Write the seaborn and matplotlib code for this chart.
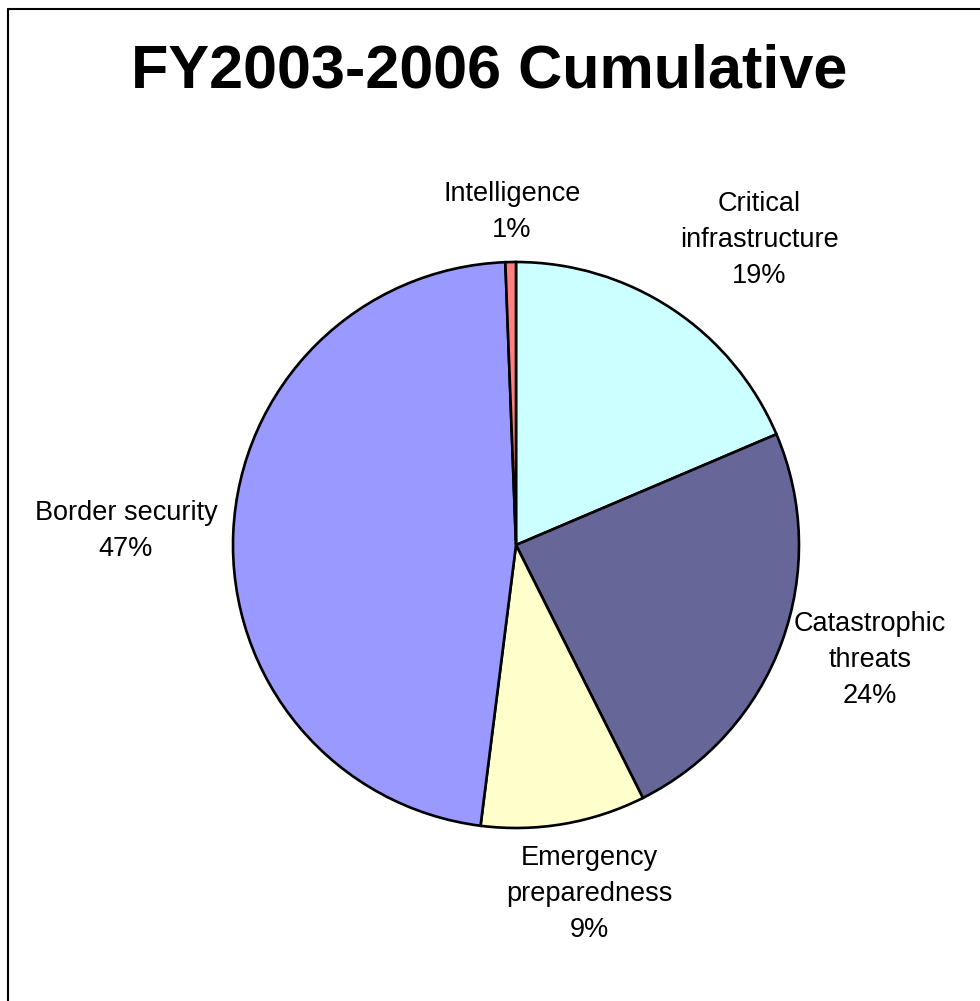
import matplotlib
matplotlib.use("Agg")
import matplotlib.pyplot as plt
import seaborn as sns
from matplotlib.lines import Line2D

# Data (clockwise from 12 o'clock)
categories = ["Critical\ninfrastructure", "Catastrophic\nthreats", "Emergency\npreparedness",
              "Border security", "Intelligence"]
shares = [18.6, 24.0, 9.4, 47.4, 0.6]
colors = ["#CCFFFF", "#666699", "#FFFFCC", "#9999FF", "#FF8080"]

# Label placement (layout, in pie-radius units)
label_pos = [(0.859, 1.078), (1.251, -0.406), (0.258, -1.233), (-1.378, 0.049), (-0.014, 1.178)]

sns.set_theme(style="white")
plt.rcParams["font.family"] = ["Liberation Sans", "DejaVu Sans"]

fig = plt.figure(figsize=(9.8, 10.01), dpi=100)
fig.patch.set_facecolor("white")
ax = fig.add_axes([0, 0, 1, 1])

labels = [f"{c}\n{round(v)}%" for c, v in zip(categories, shares)]
wedges, texts = ax.pie(shares, colors=colors, startangle=90, counterclock=False,
                       labels=labels, radius=1.0,
                       wedgeprops=dict(edgecolor="black", linewidth=1.9),
                       textprops=dict(fontsize=19.5, color="black"))
for t, (x, y) in zip(texts, label_pos):
    t.set_position((x, y))
    t.set_ha("center")
    t.set_va("center")
    t.set_multialignment("center")
    t.set_linespacing(1.5)

ax.set_xlim(-516 / 283, (980 - 516) / 283)
ax.set_ylim(-(1001 - 545) / 283, 545 / 283)
ax.axis("off")

fig.text(489 / 980, 1 - 72 / 1001, "FY2003-2006 Cumulative", ha="center", va="center",
         fontsize=44, fontweight="bold", color="black")

# partial chart-area frame (top and left edges only)
fig.add_artist(Line2D([8 / 980, 1], [1 - 9 / 1001, 1 - 9 / 1001], color="black", lw=1.5,
                      transform=fig.transFigure))
fig.add_artist(Line2D([8 / 980, 8 / 980], [0, 1 - 9 / 1001], color="black", lw=1.5,
                      transform=fig.transFigure))

fig.savefig("out.png", dpi=100)
